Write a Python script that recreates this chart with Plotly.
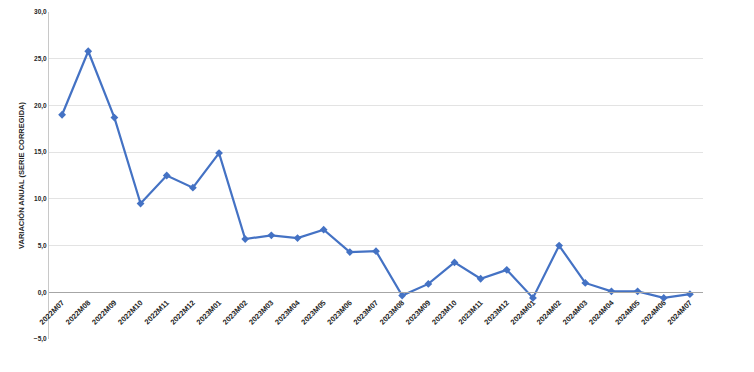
import plotly.graph_objects as go

categories = ["2022M07","2022M08","2022M09","2022M10","2022M11","2022M12",
              "2023M01","2023M02","2023M03","2023M04","2023M05","2023M06",
              "2023M07","2023M08","2023M09","2023M10","2023M11","2023M12",
              "2024M01","2024M02","2024M03","2024M04","2024M05","2024M06","2024M07"]
values = [19.0, 25.8, 18.7, 9.5, 12.5, 11.2,
          14.9, 5.7, 6.1, 5.8, 6.7, 4.3,
          4.4, -0.35, 0.9, 3.2, 1.45, 2.4,
          -0.6, 5.0, 1.0, 0.1, 0.1, -0.6, -0.2]
y_title = "<b>VARIACIÓN ANUAL (SERIE CORREGIDA)</b>"
y_min, y_max = -5, 30

W, H = 754, 372
ml, mr, mt, mb = 49, 51, 8, 33

fig = go.Figure()
fig.add_trace(go.Scatter(
    x=categories, y=values, mode="lines+markers",
    line=dict(color="#4472C4", width=2.2),
    marker=dict(symbol="diamond", size=6, color="#4472C4"),
    showlegend=False, cliponaxis=False,
))

zero_pos = (0 - y_min) / (y_max - y_min)

fig.update_layout(
    width=W, height=H,
    margin=dict(l=ml, r=mr, t=mt, b=mb),
    paper_bgcolor="white", plot_bgcolor="white",
    separators=",.",
    font=dict(family="Liberation Sans, Arial, sans-serif", color="#262626"),
    xaxis=dict(
        type="category", anchor="free", position=zero_pos,
        showline=True, linecolor="#a6a6a6", linewidth=1,
        showgrid=False, ticks="outside", ticklen=2, tickcolor="rgba(0,0,0,0)",
        tickangle=-45,
        tickfont=dict(size=7.5, color="#262626", weight="bold"),
        range=[-0.5, len(categories) - 0.5],
    ),
    yaxis=dict(
        range=[y_min, y_max], dtick=5, tickformat=".1f",
        showgrid=True, gridcolor="#e3e3e3", gridwidth=1,
        zeroline=False,
        showline=True, linecolor="#c8c8c8", linewidth=1,
        ticks="", tickfont=dict(size=6.5, color="#262626", weight="bold"),
        title=dict(text=y_title, font=dict(size=7.5, color="#262626"), standoff=8),
    ),
)

fig.write_html("out.html")
